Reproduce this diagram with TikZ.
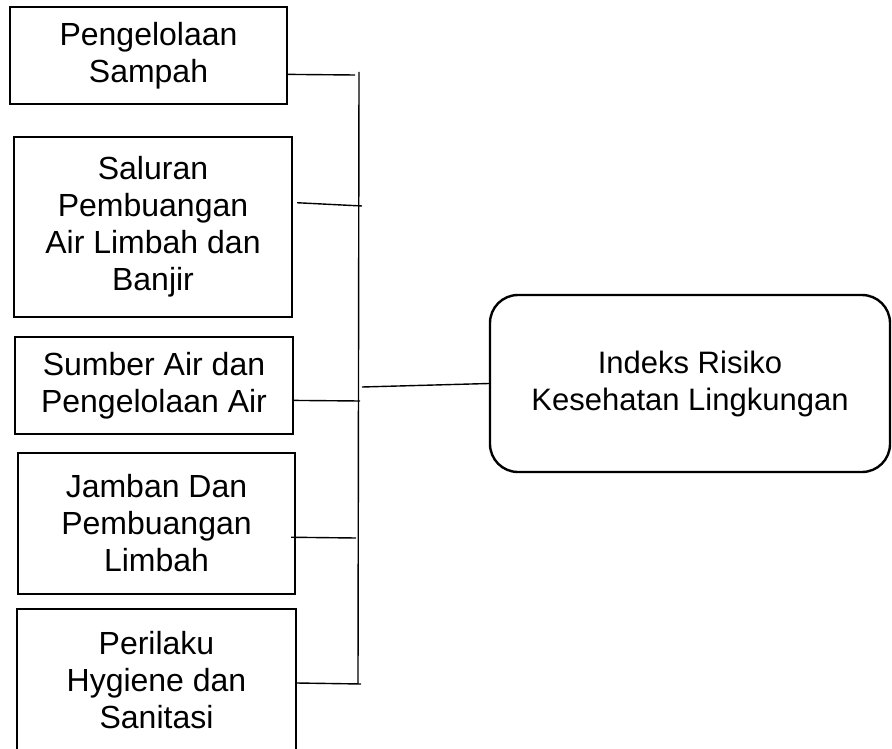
\documentclass[tikz,border=0pt]{standalone}
\usepackage{fontspec}
\setmainfont{Liberation Sans}
\usetikzlibrary{calc}
\begin{document}
\begin{tikzpicture}[x=1pt,y=-1pt,
  boxline/.style={line width=2.4pt},
  box/.style={draw,line width=2.4pt,rectangle,inner sep=0pt,align=center,font=\fontsize{32}{37}\selectfont},
  conn/.style={line width=1.4pt}]
\useasboundingbox (0,0) rectangle (892,749);
\clip (0,0) rectangle (892,749);
\node[box,minimum width=277pt,minimum height=97pt] (b1) at (148.5,55.5) {Pengelolaan\\Sampah};
\node[box,minimum width=278pt,minimum height=180pt] (b2) at (153,227) {Saluran\\Pembuangan\\Air Limbah dan\\Banjir};
\node[box,minimum width=278pt,minimum height=97pt] (b3) at (154,385.5) {Sumber Air dan\\Pengelolaan Air};
\node[box,minimum width=277pt,minimum height=141pt] (b4) at (156.5,523.5) {Jamban Dan\\Pembuangan\\Limbah};
\node[box,draw=none,minimum width=277pt,minimum height=140pt] (b5) at (156.5,680) {Perilaku\\Hygiene dan\\Sanitasi};
\draw[boxline] ([yshift=-14pt]b5.south west) |- (b5.north east) -- ([yshift=-14pt]b5.south east);
\node[box,rounded corners=28pt,minimum width=400pt,minimum height=177pt,font=\fontsize{31}{37}\selectfont] (idx) at (690,383.5) {Indeks Risiko\\Kesehatan Lingkungan};
% bus
\coordinate (bustop) at (359,72);
\coordinate (busbot) at (358,684);
\draw[conn] (bustop) -- (busbot);
\coordinate (j1) at (355,75);
\coordinate (j2) at (362,206);
\coordinate (j3) at (360,401);
\coordinate (jc) at (362,387);
\coordinate (j4) at (356,538);
\coordinate (j5) at (361,684);
\draw[conn] ($(b1.south east)!0.31!(b1.north east)$) -- (j1);
\draw[conn] ($(b2.south east)!0.633!(b2.north east)+(4,0)$) -- (j2);
\draw[conn] ($(b3.south east)!0.35!(b3.north east)$) -- (j3);
\draw[conn] (jc) -- (idx.west);
\draw[conn] ($(b4.south east)!0.404!(b4.north east)+(-5,0)$) -- (j4);
\draw[conn] ($(b5.south east)!0.479!(b5.north east)$) -- (j5);
\end{tikzpicture}
\end{document}
